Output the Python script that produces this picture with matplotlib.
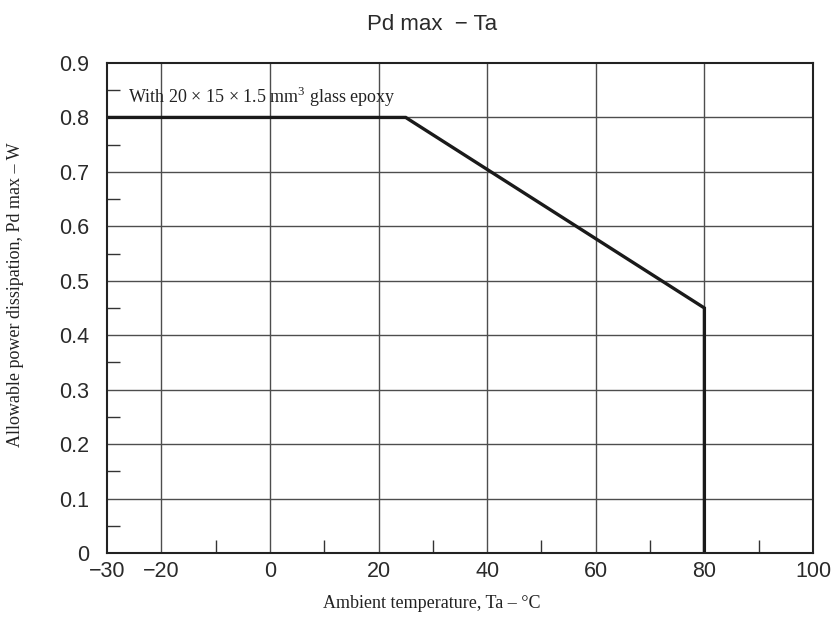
import matplotlib
matplotlib.use("Agg")
import matplotlib.pyplot as plt
from matplotlib.ticker import FixedLocator

# derating curve
temp = [-30, 25, 80, 80]
pd_max = [0.8, 0.8, 0.45, 0.0]

xticks = [-30, -20, 0, 20, 40, 60, 80, 100]
xtick_labels = ["\u221230", "\u221220", "0", "20", "40", "60", "80", "100"]
yticks = [0, 0.1, 0.2, 0.3, 0.4, 0.5, 0.6, 0.7, 0.8, 0.9]
ytick_labels = ["0", "0.1", "0.2", "0.3", "0.4", "0.5", "0.6", "0.7", "0.8", "0.9"]

sans = "Liberation Sans"
serif = "Liberation Serif"

plt.rcParams["mathtext.fontset"] = "custom"
plt.rcParams["mathtext.rm"] = serif

fig = plt.figure(figsize=(8.35, 6.29), dpi=100)
ax = fig.add_axes([107/835, 1-553/629, (813-107)/835, (553-63)/629])

ax.set_xlim(-30, 100)
ax.set_ylim(0, 0.9)

# grid
for x in [-20, 0, 20, 40, 60, 80]:
    ax.axvline(x, color="#4d4d4d", lw=1.0, zorder=1)
for y in yticks[1:-1]:
    ax.axhline(y, color="#4d4d4d", lw=1.0, zorder=1)

ax.plot(temp, pd_max, color="#1a1a1a", lw=2.4, zorder=3, solid_joinstyle="miter")

ax.xaxis.set_major_locator(FixedLocator(xticks))
ax.set_xticklabels(xtick_labels, fontfamily=sans, fontsize=15.5, color="#2a2a2a")
ax.yaxis.set_major_locator(FixedLocator(yticks))
ax.set_yticklabels(ytick_labels, fontfamily=sans, fontsize=15.5, color="#2a2a2a")
ax.xaxis.set_minor_locator(FixedLocator([-10, 10, 30, 50, 70, 90]))
ax.yaxis.set_minor_locator(FixedLocator([0.05 + 0.1*i for i in range(9)]))

ax.tick_params(which="major", length=0)
ax.tick_params(axis="x", which="major", pad=6)
ax.tick_params(axis="y", which="major", pad=13)
ax.tick_params(which="minor", direction="in", length=9.5, width=1.0, color="#333333")
ax.tick_params(top=False, right=False)

for s in ax.spines.values():
    s.set_linewidth(1.5)
    s.set_color("#222222")
    s.set_zorder(4)

ax.text(-26.1, 0.8265, "With 20 \u00d7 15 \u00d7 1.5 mm$^{3}$ glass epoxy",
        fontfamily=serif, fontsize=13, color="#222222", zorder=5)

fig.text(432/835, 1-25/629, "Pd max  \u2212 Ta", fontfamily=sans, fontsize=16,
         ha="center", va="center", color="#2a2a2a")
fig.text(432/835, 1-603/629, "Ambient temperature, Ta \u2013 \u00b0C", fontfamily=serif,
         fontsize=13, ha="center", va="center", color="#222222")
fig.text(16/835, 1-295/629, "Allowable power dissipation, Pd max \u2013 W", fontfamily=serif,
         fontsize=13, ha="center", va="center", rotation=90, color="#222222")

fig.savefig("out.png", dpi=100)
